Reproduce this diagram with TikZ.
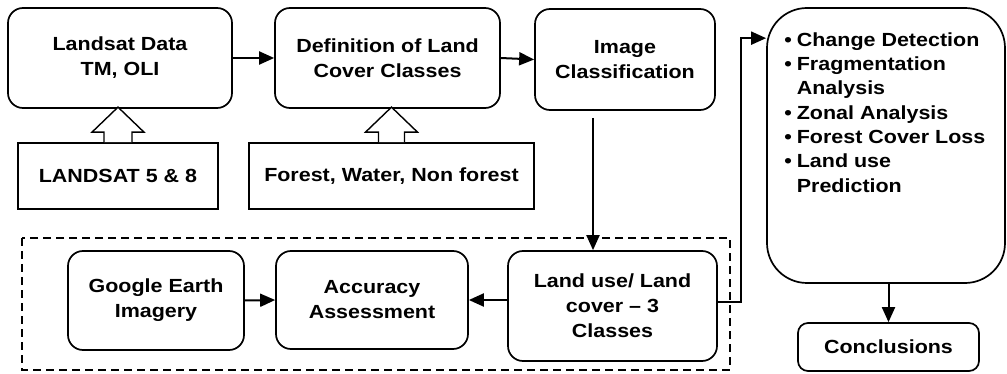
\documentclass[tikz,border=0pt]{standalone}
\usepackage{fontspec}
\setmainfont{Liberation Sans}[FakeStretch=1.13]
\usetikzlibrary{arrows.meta}

\begin{document}
\begin{tikzpicture}[x=1pt, y=1pt,
    box/.style={rectangle, rounded corners=15pt, draw, line width=1.7pt, align=center, inner sep=2pt, font=\bfseries\fontsize{19}{25}\selectfont},
    srcbox/.style={rectangle, draw, line width=1.7pt, align=center, inner sep=2pt, font=\bfseries\fontsize{19}{25}\selectfont},
    arrow/.style={-{Triangle[length=15pt,width=13pt]}, line width=2pt},
    hollow/.style={draw, fill=white, line width=1.4pt, line join=miter}
]
    \useasboundingbox (0,0) rectangle (1007,-374);

    % Rahmen
    \draw[line width=1.3pt, dash pattern=on 8pt off 5pt] (22,-238) rectangle (730,-370);

    % Kaesten
    \node[box, minimum width=224pt, minimum height=100pt] (landsat) at (120,-58) {Landsat Data\\TM, OLI};
    \node[box, minimum width=225pt, minimum height=100pt] (defn) at (387.5,-58) {Definition of Land\\Cover Classes};
    \node[box, minimum width=180pt, minimum height=101pt] (imgcls) at (625,-59.5) {Image\\Classification};
    \node[srcbox, minimum width=200pt, minimum height=66pt] (sensor) at (118,-176) {LANDSAT 5 \& 8};
    \node[srcbox, minimum width=285pt, minimum height=66pt] (classes) at (391.5,-176) {Forest, Water, Non forest};
    \node[box, minimum width=176pt, minimum height=99pt] (google) at (156,-300.5) {Google Earth\\Imagery};
    \node[box, minimum width=192pt, minimum height=98pt] (accu) at (372,-300) {Accuracy\\Assessment};
    \node[box, minimum width=209pt, minimum height=110pt] (landuse) at (612.5,-306) {Land use/ Land\\cover -- 3\\Classes};
    \node[box, rounded corners=40pt, minimum width=238pt, minimum height=275pt] (results) at (886,-145.5) {};
    \node[anchor=north west, inner sep=0pt, align=left, font=\bfseries\fontsize{19}{24.3}\selectfont] (tasks)
        at ([xshift=18pt,yshift=-22pt]results.north west) {%
        \begin{tabular}{@{}l@{\hspace{5pt}}l@{}}
        \textbullet & Change Detection\\
        \textbullet & Fragmentation\\
                    & Analysis\\
        \textbullet & Zonal Analysis\\
        \textbullet & Forest Cover Loss\\
        \textbullet & Land use\\
                    & Prediction
        \end{tabular}};
    \node[box, rounded corners=10pt, minimum width=181pt, minimum height=48pt] (conc) at (888.5,-347) {Conclusions};

    % Pfeile
    \draw[arrow] (landsat) -- (defn);
    \draw[arrow] (defn.east) -- (imgcls.west);
    \coordinate (cut) at ([xshift=-32pt,yshift=-7pt]imgcls.south);
    \draw[arrow] (cut) -- (cut |- landuse.north);
    \draw[arrow] ([yshift=4pt]landuse.east) -- ++(23,0) |- ([yshift=-31pt]results.north west);
    \draw[arrow] (conc.north |- results.south) -- (conc.north);
    \draw[arrow] (google.east) -- (accu.west);
    \draw[arrow] (landuse.west |- accu.east) -- (accu.east);

    % Blockpfeile
    \draw[hollow] ([xshift=-14pt]sensor.north) -- ++(0,10) -- ++(-12,0) -- ++(26,25) -- ++(26,-25) -- ++(-12,0) -- ++(0,-10);
    \draw[hollow] ([xshift=-13pt]classes.north) -- ++(0,10) -- ++(-13,0) -- ++(26,25) -- ++(26,-25) -- ++(-13,0) -- ++(0,-10);
\end{tikzpicture}
\end{document}
